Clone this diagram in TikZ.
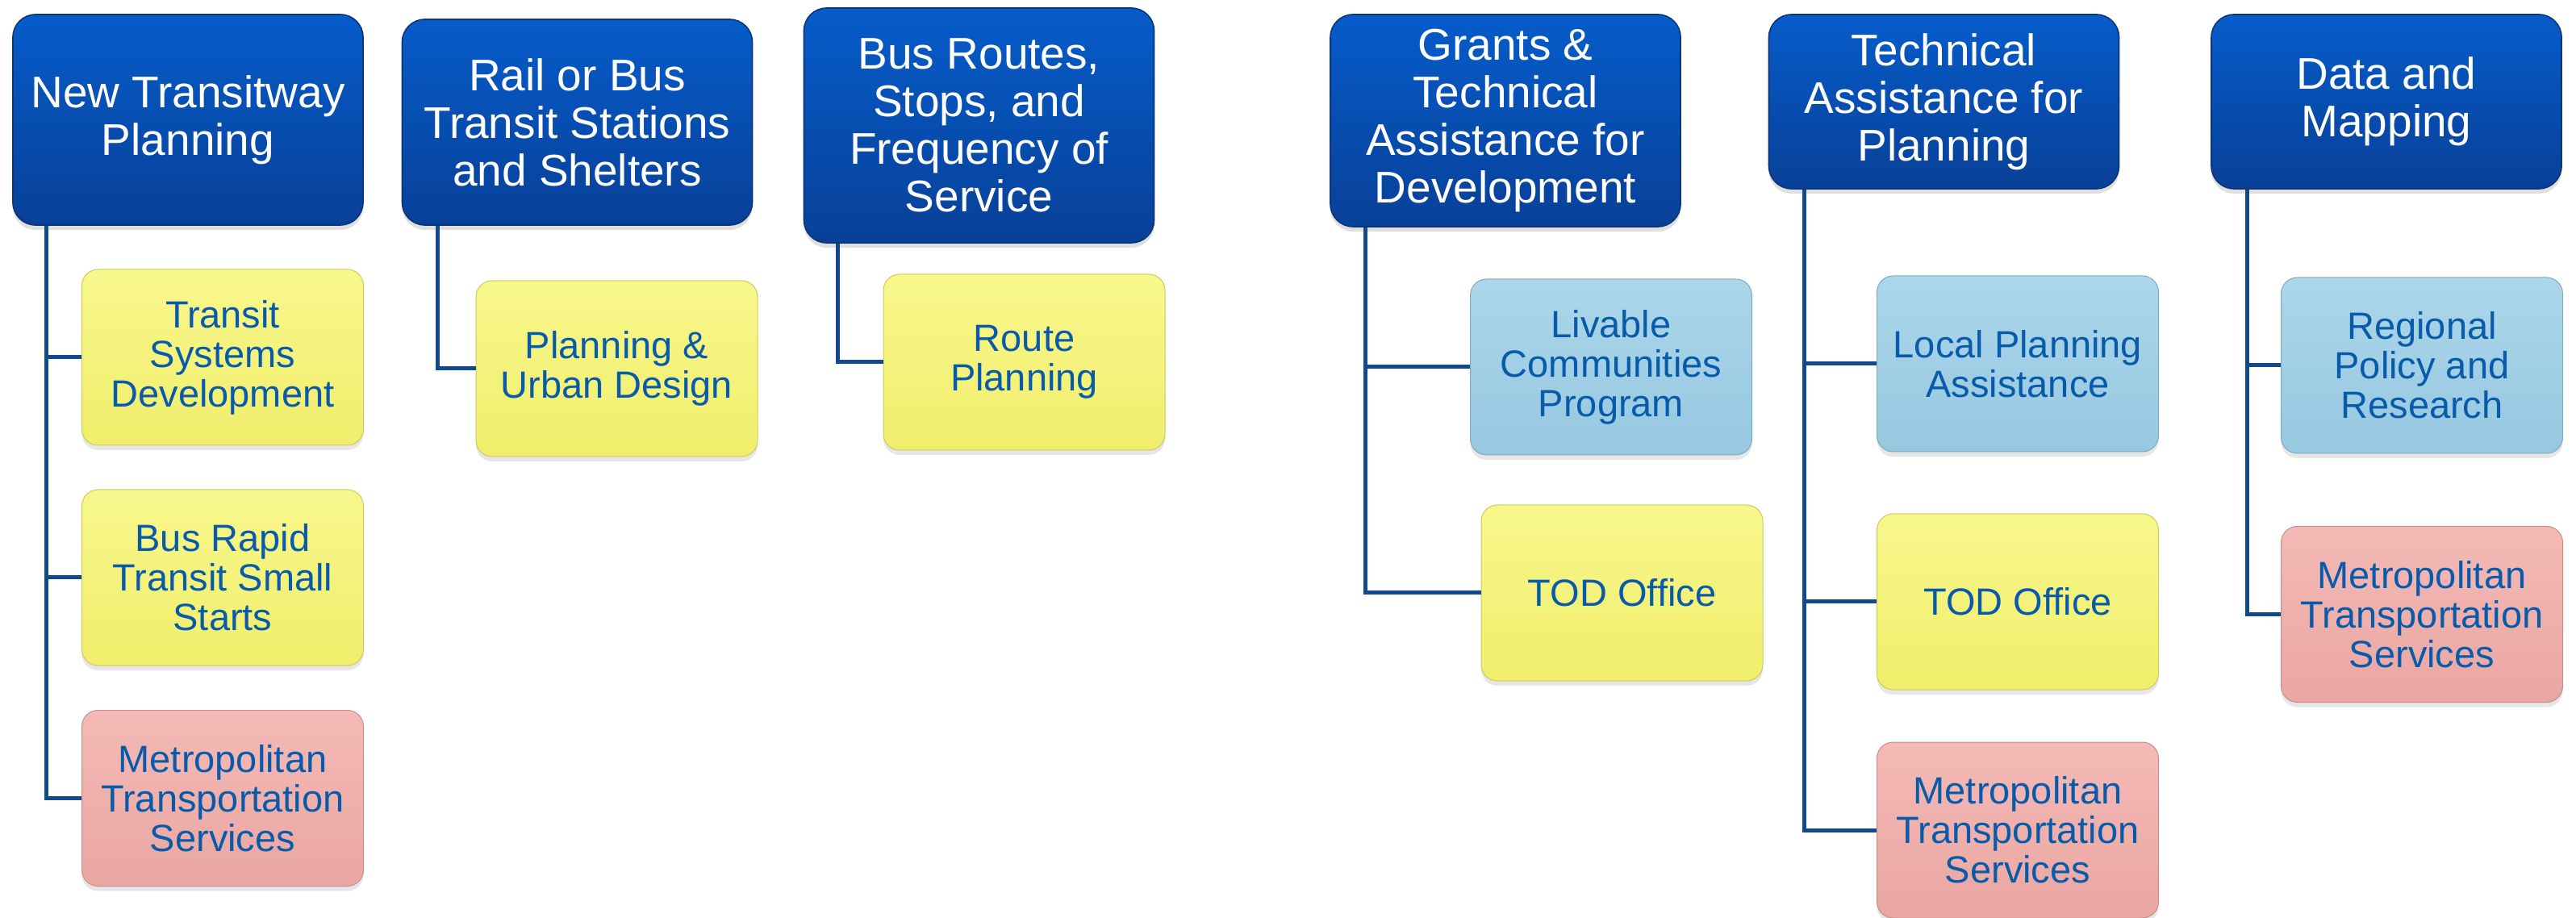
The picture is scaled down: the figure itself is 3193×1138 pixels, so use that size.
\documentclass[tikz,border=0pt]{standalone}
\usepackage{fontspec}
\setmainfont{Liberation Sans}
\usetikzlibrary{shadows}
\definecolor{hdrtop}{RGB}{6,92,202}
\definecolor{hdrbot}{RGB}{8,64,152}
\definecolor{hdrline}{RGB}{12,52,120}
\definecolor{ylwtop}{RGB}{248,247,140}
\definecolor{ylwbot}{RGB}{240,238,108}
\definecolor{lbltop}{RGB}{172,214,234}
\definecolor{lblbot}{RGB}{150,200,224}
\definecolor{pnktop}{RGB}{244,186,182}
\definecolor{pnkbot}{RGB}{234,166,162}
\definecolor{kidtext}{RGB}{8,90,170}
\definecolor{conncol}{RGB}{16,74,140}
\tikzset{
  hdr/.style={rectangle, rounded corners=14pt, draw=hdrline, line width=0.8pt,
    top color=hdrtop, bottom color=hdrbot, text=white, align=center,
    inner sep=0pt, minimum width=217pt,
    font=\fontsize{27.5}{29.5}\selectfont,
    drop shadow={shadow xshift=0pt, shadow yshift=-3pt, opacity=0.25}},
  kid/.style={rectangle, rounded corners=10pt, line width=0.5pt, text=kidtext,
    align=center, inner sep=0pt, minimum width=174.5pt, minimum height=109pt,
    font=\fontsize{23.5}{24.5}\selectfont,
    drop shadow={shadow xshift=0pt, shadow yshift=-3pt, opacity=0.2}},
  ybox/.style={kid, top color=ylwtop, bottom color=ylwbot, draw=ylwbot!85!black},
  bbox/.style={kid, top color=lbltop, bottom color=lblbot, draw=lblbot!85!black},
  pbox/.style={kid, top color=pnktop, bottom color=pnkbot, draw=pnkbot!85!black},
  conn/.style={draw=conncol, line width=2.5pt}
}
\begin{document}
\begin{tikzpicture}[x=0.5pt,y=-0.5pt]
\useasboundingbox (0,0) rectangle (3193,1138);
% headers
\node[hdr, minimum height=130.5pt] (h1) at (233,148.5) {New Transitway\\Planning};
\node[hdr, minimum height=127.5pt] (h2) at (715.5,151.5) {Rail or Bus\\Transit Stations\\and Shelters};
\node[hdr, minimum height=145.5pt] (h3) at (1213.5,155.5) {Bus Routes,\\Stops, and\\Frequency of\\Service};
\node[hdr, minimum height=131.5pt] (h4) at (1866,149.5) {Grants \&\\Technical\\Assistance for\\Development};
\node[hdr, minimum height=108pt] (h5) at (2409.5,126) {Technical\\Assistance for\\Planning};
\node[hdr, minimum height=108pt] (h6) at (2958,126) {Data and\\Mapping};
% children
\node[ybox] (c1a) at (276,443) {Transit\\Systems\\Development};
\node[ybox] (c1b) at (276,716) {Bus Rapid\\Transit Small\\Starts};
\node[pbox] (c1c) at (276,989.5) {Metropolitan\\Transportation\\Services};
\node[ybox] (c2a) at (764.5,457) {Planning \&\\Urban Design};
\node[ybox] (c3a) at (1269.5,449) {Route\\Planning};
\node[bbox] (c4a) at (1997,455) {Livable\\Communities\\Program};
\node[ybox] (c4b) at (2010.5,735) {TOD Office};
\node[bbox] (c5a) at (2501,451) {Local Planning\\Assistance};
\node[ybox] (c5b) at (2501,746) {TOD Office};
\node[pbox] (c5c) at (2501,1029) {Metropolitan\\Transportation\\Services};
\node[bbox] (c6a) at (3002,453) {Regional\\Policy and\\Research};
\node[pbox] (c6b) at (3002,761.5) {Metropolitan\\Transportation\\Services};
% trunk x positions
\coordinate (t1) at (57,0);
\coordinate (t2) at (542,0);
\coordinate (t3) at (1038,0);
\coordinate (t4) at (1692,0);
\coordinate (t5) at (2236,0);
\coordinate (t6) at (2785,0);
% connectors
\draw[conn] (h1.south -| t1) |- (c1c.west);
\draw[conn] (c1a.west) -- (c1a.west -| t1);
\draw[conn] (c1b.west) -- (c1b.west -| t1);
\draw[conn] (h2.south -| t2) |- (c2a.west);
\draw[conn] (h3.south -| t3) |- (c3a.west);
\draw[conn] (h4.south -| t4) |- (c4b.west);
\draw[conn] (c4a.west) -- (c4a.west -| t4);
\draw[conn] (h5.south -| t5) |- (c5c.west);
\draw[conn] (c5a.west) -- (c5a.west -| t5);
\draw[conn] (c5b.west) -- (c5b.west -| t5);
\draw[conn] (h6.south -| t6) |- (c6b.west);
\draw[conn] (c6a.west) -- (c6a.west -| t6);
\end{tikzpicture}
\end{document}
